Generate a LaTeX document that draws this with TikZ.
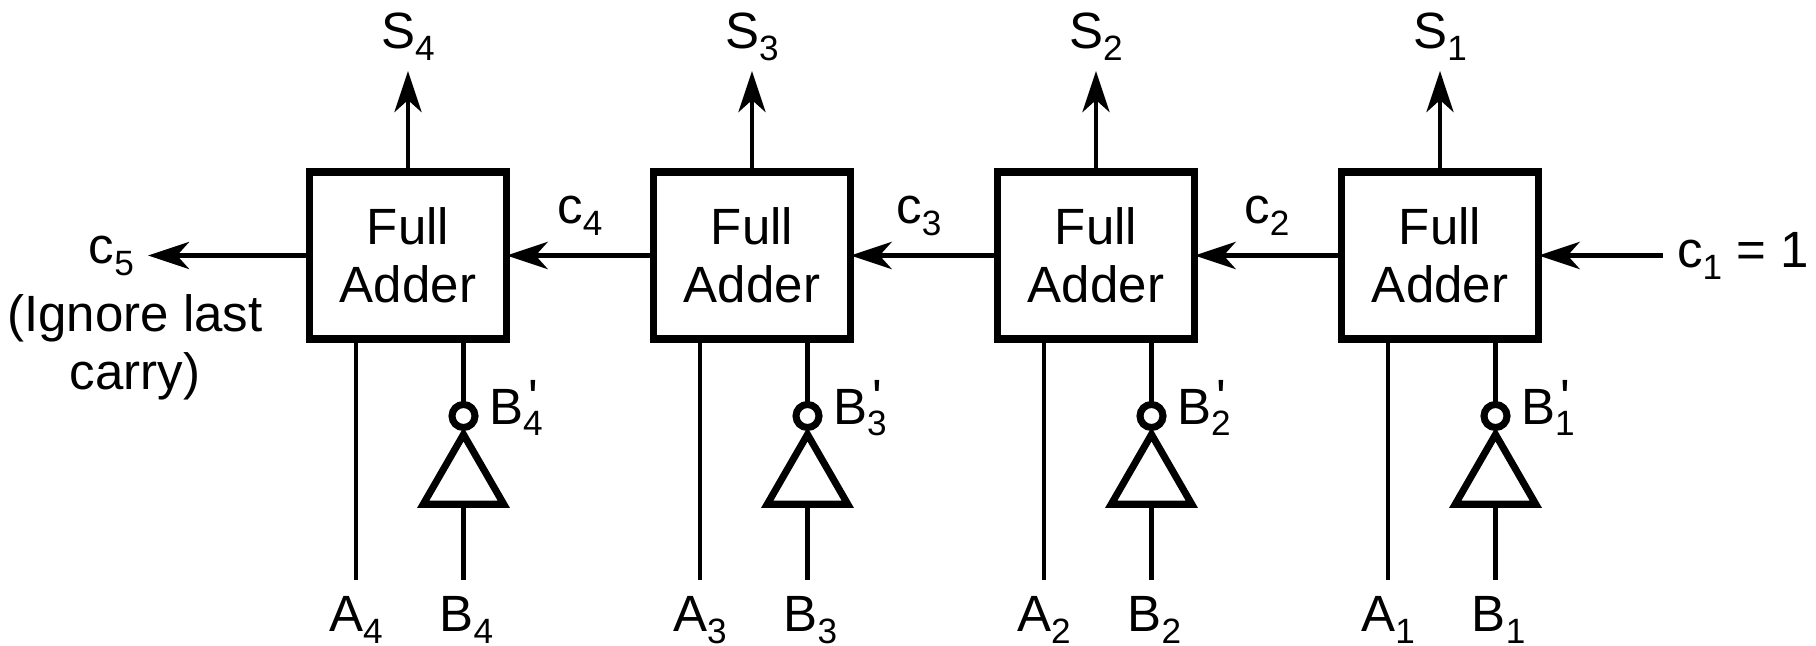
\documentclass[tikz,border=0pt]{standalone}
\usepackage{fontspec}
\setmainfont{Liberation Sans}
\usetikzlibrary{arrows.meta,shapes.geometric}

\newcommand{\lowdigit}[1]{\raisebox{-3.4pt}{\fontsize{10}{10}\selectfont #1}}
\newcommand{\tickdigit}[1]{\rlap{\hspace{1.5pt}\raisebox{2.3pt}{\textquotesingle}}\lowdigit{#1}}

\tikzset{
	adder/.style={draw, line width=2.2pt, fill=white, align=center, outer sep=0pt, minimum width=1.97cm, minimum height=1.67cm},
	notgate/.style={draw, regular polygon, regular polygon sides=3, line width=2pt, fill=white, outer sep=0pt, inner sep=0pt, minimum size=0.93cm},
	bubble/.style={draw, circle, line width=2pt, fill=white, outer sep=0pt, inner sep=0pt, minimum size=0.23cm},
	signal/.style={inner sep=4pt, outer sep=0pt},
	output/.style={signal, anchor=south, inner ysep=3pt},
	input/.style={signal, anchor=north, inner ysep=4.6pt},
	wire/.style={line width=1.4pt},
	carry/.style={line width=1.4pt, -{Stealth[length=0.41cm, width=0.27cm, inset=0.12cm]}}
}

\begin{document}
\begin{tikzpicture}[x=0.01cm, y=-0.01cm, font=\fontsize{14.5}{16.5}\selectfont]
			\useasboundingbox (0,0) rectangle (1816,646);

			\node[adder] (fa4) at (408, 255.5) {Full\\Adder};
			\node[adder] (fa3) at (752, 255.5) {Full\\Adder};
			\node[adder] (fa2) at (1096, 255.5) {Full\\Adder};
			\node[adder] (fa1) at (1440, 255.5) {Full\\Adder};

			\node[output] (s4) at (408, 71) {S\lowdigit{4}};
			\node[output] (s3) at (752, 71) {S\lowdigit{3}};
			\node[output] (s2) at (1096, 71) {S\lowdigit{2}};
			\node[output] (s1) at (1440, 71) {S\lowdigit{1}};

			\node[bubble] (dot4) at (463.5, 416) {};
			\node[bubble] (dot3) at (807.5, 416) {};
			\node[bubble] (dot2) at (1151.5, 416) {};
			\node[bubble] (dot1) at (1495.5, 416) {};

			\node[notgate] (inv4) at (463.5, 481) {};
			\node[notgate] (inv3) at (807.5, 481) {};
			\node[notgate] (inv2) at (1151.5, 481) {};
			\node[notgate] (inv1) at (1495.5, 481) {};

			\node[input] (a4) at (356, 580) {A\lowdigit{4}};
			\node[input] (a3) at (700, 580) {A\lowdigit{3}};
			\node[input] (a2) at (1044, 580) {A\lowdigit{2}};
			\node[input] (a1) at (1388, 580) {A\lowdigit{1}};

			\node[input] (b4) at (466.5, 580) {B\lowdigit{4}};
			\node[input] (b3) at (810.5, 580) {B\lowdigit{3}};
			\node[input] (b2) at (1154.5, 580) {B\lowdigit{2}};
			\node[input] (b1) at (1498.5, 580) {B\lowdigit{1}};

			\node[signal, anchor=base west] (nb4) at (475, 424) {B\tickdigit{4}};
			\node[signal, anchor=base west] (nb3) at (819, 424) {B\tickdigit{3}};
			\node[signal, anchor=base west] (nb2) at (1163, 424) {B\tickdigit{2}};
			\node[signal, anchor=base west] (nb1) at (1507, 424) {B\tickdigit{1}};

			\node[signal, anchor=base] (c4) at (580, 224) {c\lowdigit{4}};
			\node[signal, anchor=base] (c3) at (919, 224) {c\lowdigit{3}};
			\node[signal, anchor=base] (c2) at (1267, 224) {c\lowdigit{2}};
			\node[signal, anchor=base east] (c5) at (148, 264) {c\lowdigit{5}};
			\node[signal, anchor=base west] (c1) at (1663, 268) {c\lowdigit{1} = 1};
			\node[signal, align=center] (note) at (135, 347) {(Ignore last\\carry)};

			\draw[carry] (fa4.north) to (s4.south);
			\draw[carry] (fa3.north) to (s3.south);
			\draw[carry] (fa2.north) to (s2.south);
			\draw[carry] (fa1.north) to (s1.south);

			\draw[carry] (fa4.west) to (fa4.west -| c5.east);
			\draw[carry] (fa3.west) to (fa4.east);
			\draw[carry] (fa2.west) to (fa3.east);
			\draw[carry] (fa1.west) to (fa2.east);
			\draw[carry] (fa1.east -| c1.west) to (fa1.east);

			\draw[wire] (a4.north) to (a4.north |- fa4.south);
			\draw[wire] (a3.north) to (a3.north |- fa3.south);
			\draw[wire] (a2.north) to (a2.north |- fa2.south);
			\draw[wire] (a1.north) to (a1.north |- fa1.south);

			\draw[wire] (dot4.north) to (dot4.north |- fa4.south);
			\draw[wire] (dot3.north) to (dot3.north |- fa3.south);
			\draw[wire] (dot2.north) to (dot2.north |- fa2.south);
			\draw[wire] (dot1.north) to (dot1.north |- fa1.south);

			\draw[wire] (inv4.south |- b4.north) to (inv4.south);
			\draw[wire] (inv3.south |- b3.north) to (inv3.south);
			\draw[wire] (inv2.south |- b2.north) to (inv2.south);
			\draw[wire] (inv1.south |- b1.north) to (inv1.south);
			\end{tikzpicture}
\end{document}
